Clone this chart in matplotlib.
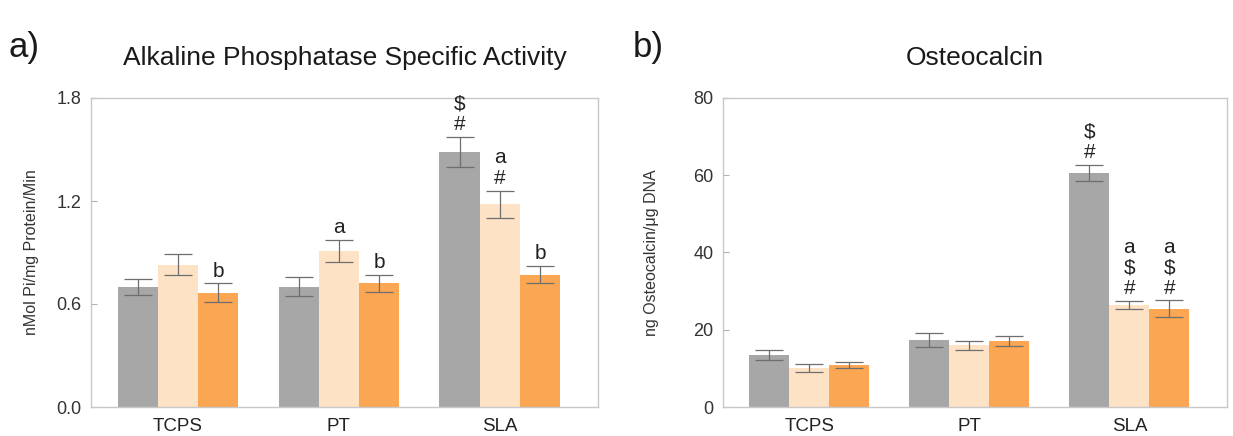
import numpy as np
import matplotlib
matplotlib.use("Agg")
import matplotlib.pyplot as plt

plt.rcParams['font.family'] = ['Liberation Sans', 'DejaVu Sans']

surfaces = ["TCPS", "PT", "SLA"]
colors = ["#a7a7a7", "#fde2c6", "#fba653"]

# Alkaline phosphatase specific activity (nMol Pi/mg protein/min)
alp_mean = [[0.70, 0.70, 1.485],
            [0.83, 0.91, 1.18],
            [0.665, 0.72, 0.77]]
alp_err = [[0.047, 0.055, 0.087],
           [0.06, 0.065, 0.08],
           [0.055, 0.05, 0.05]]
alp_marks = [["", "", "$\n#"],
             ["", "a", "a\n#"],
             ["b", "b", "b"]]

# Osteocalcin (ng osteocalcin/ug DNA)
oc_mean = [[13.5, 17.3, 60.6],
           [10.1, 16.0, 26.4],
           [10.9, 17.1, 25.4]]
oc_err = [[1.3, 1.8, 2.1],
          [1.1, 1.2, 1.1],
          [0.8, 1.3, 2.2]]
oc_marks = [["", "", "$\n#"],
            ["", "", "a\n$\n#"],
            ["", "", "a\n$\n#"]]


def draw_panel(ax, means, errs, marks, ylim, yticks, yfmt, ylabel, label_x, title):
    x = np.arange(len(surfaces))
    width = 0.25
    for i in range(3):
        xs = x + (i - 1) * width
        ax.bar(xs, means[i], width, color=colors[i], edgecolor='none', zorder=2)
        ax.errorbar(xs, means[i], yerr=errs[i], fmt='none', ecolor='#6e6e6e',
                    elinewidth=0.9, capsize=10, capthick=0.9, zorder=3)
        for xx, m, e, t in zip(xs, means[i], errs[i], marks[i]):
            if t:
                ax.annotate(t, (xx, m + e), xytext=(0, 2), textcoords='offset points',
                            ha='center', va='bottom', fontsize=15, linespacing=1.1,
                            color='#222222')
    ax.set_xlim(-0.54, 2.61)
    ax.set_ylim(*ylim)
    ax.set_yticks(yticks)
    ax.set_yticklabels([yfmt.format(v) for v in yticks])
    ax.set_xticks(x)
    ax.set_xticklabels(surfaces)
    for s in ax.spines.values():
        s.set_color('#c8c8c8')
        s.set_linewidth(1.0)
    ax.tick_params(axis='y', direction='in', length=4, color='#b0b0b0',
                   labelsize=13, pad=7, labelcolor='#333333')
    ax.tick_params(axis='x', length=0, labelsize=13.5, pad=8, labelcolor='#222222')
    ax.set_ylabel(ylabel, fontsize=11.5, color='#333333')
    ax.yaxis.set_label_coords(label_x, 0.5)
    ax.set_title(title, fontsize=19, pad=24, color='#1a1a1a')


fig = plt.figure(figsize=(12.33, 4.36), dpi=100)
ax1 = fig.add_axes([91 / 1233, 1 - 407 / 436, 507 / 1233, 309 / 436])
ax2 = fig.add_axes([723 / 1233, 1 - 407 / 436, 504 / 1233, 309 / 436])

draw_panel(ax1, alp_mean, alp_err, alp_marks, (0, 1.8), [0, 0.6, 1.2, 1.8], "{:.1f}",
           "nMol Pi/mg Protein/Min", -0.103, "Alkaline Phosphatase Specific Activity")
draw_panel(ax2, oc_mean, oc_err, oc_marks, (0, 80), [0, 20, 40, 60, 80], "{:.0f}",
           "ng Osteocalcin/\u03bcg DNA", -0.127, "Osteocalcin")

fig.text(8 / 1233, 1 - 48 / 436, "a)", fontsize=25, va='center', color='#1a1a1a')
fig.text(633 / 1233, 1 - 48 / 436, "b)", fontsize=25, va='center', color='#1a1a1a')

fig.savefig("out.png", dpi=100)
